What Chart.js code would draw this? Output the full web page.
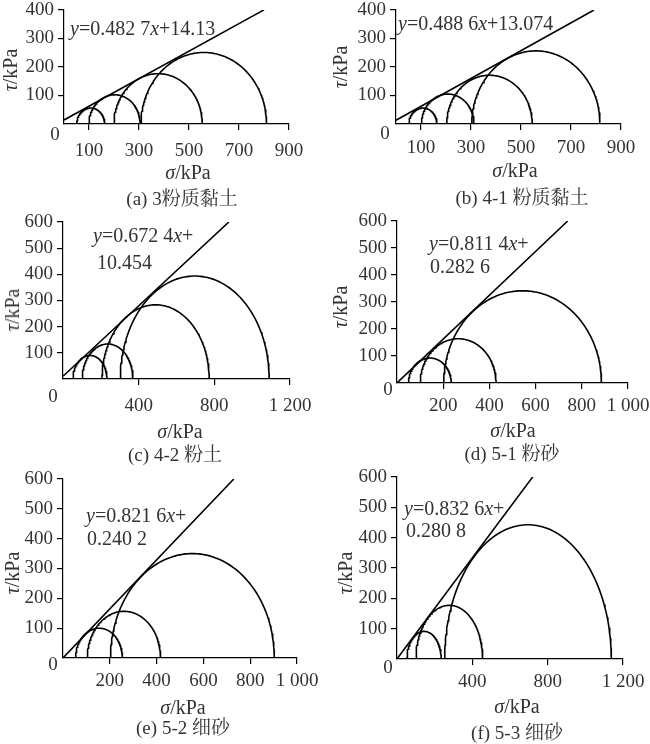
<!DOCTYPE html>
<html>
<head>
<meta charset="utf-8">
<script src="https://cdn.jsdelivr.net/npm/chart.js@4.4.1/dist/chart.umd.min.js"></script>
<style>
body { margin: 0; background: #fff; width: 650px; height: 744px; position: relative; overflow: hidden;
  font-family: 'Liberation Serif', 'Times New Roman', 'Noto Serif CJK SC', 'Noto Sans CJK SC', serif; color: #333; }
canvas { position: absolute; }
.t { position: absolute; white-space: nowrap; line-height: 1; }
</style>
</head>
<body>
<script>
// panel captions
const captions = ['(a) 3粉质黏土', '(b) 4-1 粉质黏土', '(c) 4-2 粉土', '(d) 5-1 粉砂', '(e) 5-2 细砂', '(f) 5-3 细砂'];

// minor / major principal stress of each Mohr circle, kPa
const sigma3 = [[51, 100, 200, 308], [52, 102, 203, 303], [53, 102, 206, 303], [50, 101, 202], [54, 104, 203], [53, 101, 253]];
const sigma1 = [[163, 305, 553, 810], [164, 312, 545, 816], [233, 370, 773, 1090], [235, 429, 885], [254, 417, 903], [235, 455, 1138]];

// strength envelope y = slope * x + intercept
const slopes = [0.4827, 0.4886, 0.6724, 0.8114, 0.8216, 0.8326];
const intercepts = [14.13, 13.074, 10.454, 0.2826, 0.2402, 0.2808];
const lineEnds = [800, 792, 877, 739, 730, 722];
const slopeText = ['0.482 7', '0.488 6', '0.672 4', '0.811 4', '0.821 6', '0.832 6'];
const interceptText = ['14.13', '13.074', '10.454', '0.282 6', '0.240 2', '0.280 8'];

// axes
const xMax = [900, 900, 1200, 1000, 1000, 1200];
const yMax = [400, 400, 600, 600, 600, 600];
const xTicks = [[100, 300, 500, 700, 900], [100, 300, 500, 700, 900], [400, 800, 1200],
  [200, 400, 600, 800, 1000], [200, 400, 600, 800, 1000], [400, 800, 1200]];
const yTicks = [[100, 200, 300, 400], [100, 200, 300, 400], [100, 200, 300, 400, 500, 600],
  [100, 200, 300, 400, 500, 600], [100, 200, 300, 400, 500, 600], [100, 200, 300, 400, 500, 600]];

// layout (page pixels): canvas box and plot area
const boxes = [[0, 0, 325, 205], [325, 0, 325, 205], [0, 193, 325, 277], [325, 193, 325, 277], [0, 458, 325, 286], [325, 458, 325, 286]];
const areas = [[64, 289, 10, 124], [396, 621, 10, 124], [63, 290, 222, 379], [397, 628, 221, 383], [63, 297, 479, 658], [397, 623, 477, 659]];
const xPad = [10, 7, 10, 6, 6, 6];
// text spots: y title, x title, caption, origin "0", equation line 1 / line 2
const yTitlePos = [[10, 70], [340, 67], [12, 310], [340, 307], [12, 573], [345, 573]];
const xTitlePos = [[188, 172], [515, 170], [180, 431], [513, 430], [183, 707], [517, 706]];
const capPos = [[182, 198], [522, 197], [175, 454], [512, 453], [183, 727], [517, 732]];
const zeroPos = [[55, 133], [385, 132], [53, 395], [388, 388], [53, 663], [388, 666]];
const eqPos = [[70, 28], [398, 23], [93, 235], [429, 243], [86, 515], [404, 508]];
const eq2Pos = [null, null, [97, 262], [430, 266], [87, 538], [406, 530]];

const FONT = "'Liberation Serif', 'Times New Roman', serif";
const tickFmt = v => String(v).replace(/\B(?=(\d{3})+(?!\d))/g, ' ');

function semicircle(s3, s1) {
  const c = (s1 + s3) / 2, r = (s1 - s3) / 2, pts = [];
  for (let k = 0; k <= 120; k++) {
    const a = Math.PI * k / 120;
    pts.push({ x: c - r * Math.cos(a), y: r * Math.sin(a) });
  }
  return pts;
}

function addText(html, x, y, size, mode) {
  const d = document.createElement('div');
  d.className = 't';
  d.innerHTML = html;
  d.style.fontSize = size + 'px';
  d.style.left = x + 'px';
  d.style.top = y + 'px';
  if (mode === 'rot') d.style.transform = 'translate(-50%,-50%) rotate(-90deg)';
  else if (mode === 'left') d.style.transform = 'translateY(-50%)';
  else d.style.transform = 'translate(-50%,-50%)';
  document.body.appendChild(d);
}

function fixScale(size, horizontal) {
  return function (s) {
    if (horizontal) s.height = size; else s.width = size;
    s.paddingLeft = 0; s.paddingRight = 0; s.paddingTop = 0; s.paddingBottom = 0;
  };
}

for (let i = 0; i < 6; i++) {
  const [bx, by, bw, bh] = boxes[i];
  const [al, ar, at, ab] = areas[i];
  const cv = document.createElement('canvas');
  cv.width = bw; cv.height = bh;
  cv.style.left = bx + 'px'; cv.style.top = by + 'px';
  document.body.appendChild(cv);

  const datasets = sigma3[i].map((s3, k) => ({
    data: semicircle(s3, sigma1[i][k]),
    borderColor: '#000', borderWidth: 1.6, pointRadius: 0, showLine: true, fill: false
  }));
  datasets.push({
    data: [{ x: 0, y: intercepts[i] }, { x: lineEnds[i], y: slopes[i] * lineEnds[i] + intercepts[i] }],
    borderColor: '#000', borderWidth: 1.6, pointRadius: 0, showLine: true, fill: false
  });

  const gridOpts = { display: true, drawOnChartArea: false, drawTicks: true, tickLength: 6, color: '#000', lineWidth: 1.2 };
  new Chart(cv.getContext('2d'), {
    type: 'scatter',
    data: { datasets: datasets },
    options: {
      responsive: false,
      animation: false,
      layout: { padding: { left: al - bx - 40, right: bx + bw - ar, top: at - by, bottom: by + bh - ab - 40 } },
      plugins: { legend: { display: false }, tooltip: { enabled: false } },
      scales: {
        x: {
          type: 'linear', min: 0, max: xMax[i],
          afterBuildTicks: s => { s.ticks = xTicks[i].map(v => ({ value: v })); },
          afterFit: fixScale(40, true),
          grid: gridOpts,
          border: { display: true, color: '#000', width: 1.2 },
          ticks: { color: '#333', font: { family: FONT, size: 19 }, padding: xPad[i], maxRotation: 0, autoSkip: false, callback: tickFmt }
        },
        y: {
          type: 'linear', min: 0, max: yMax[i],
          afterBuildTicks: s => { s.ticks = yTicks[i].map(v => ({ value: v })); },
          afterFit: fixScale(40, false),
          grid: gridOpts,
          border: { display: true, color: '#000', width: 1.2 },
          ticks: { color: '#333', font: { family: FONT, size: 19 }, padding: 4, autoSkip: false, callback: tickFmt }
        }
      }
    }
  });

  addText('<i>τ</i>/kPa', yTitlePos[i][0], yTitlePos[i][1], 20, 'rot');
  addText('<i>σ</i>/kPa', xTitlePos[i][0], xTitlePos[i][1], 20);
  addText(captions[i], capPos[i][0], capPos[i][1], 19);
  addText('0', zeroPos[i][0], zeroPos[i][1], 19);
  if (eq2Pos[i]) {
    addText('<i>y</i>=' + slopeText[i] + '<i>x</i>+', eqPos[i][0], eqPos[i][1], 20, 'left');
    addText(interceptText[i], eq2Pos[i][0], eq2Pos[i][1], 20, 'left');
  } else {
    addText('<i>y</i>=' + slopeText[i] + '<i>x</i>+' + interceptText[i], eqPos[i][0], eqPos[i][1], 20, 'left');
  }
}
</script>
</body>
</html>
